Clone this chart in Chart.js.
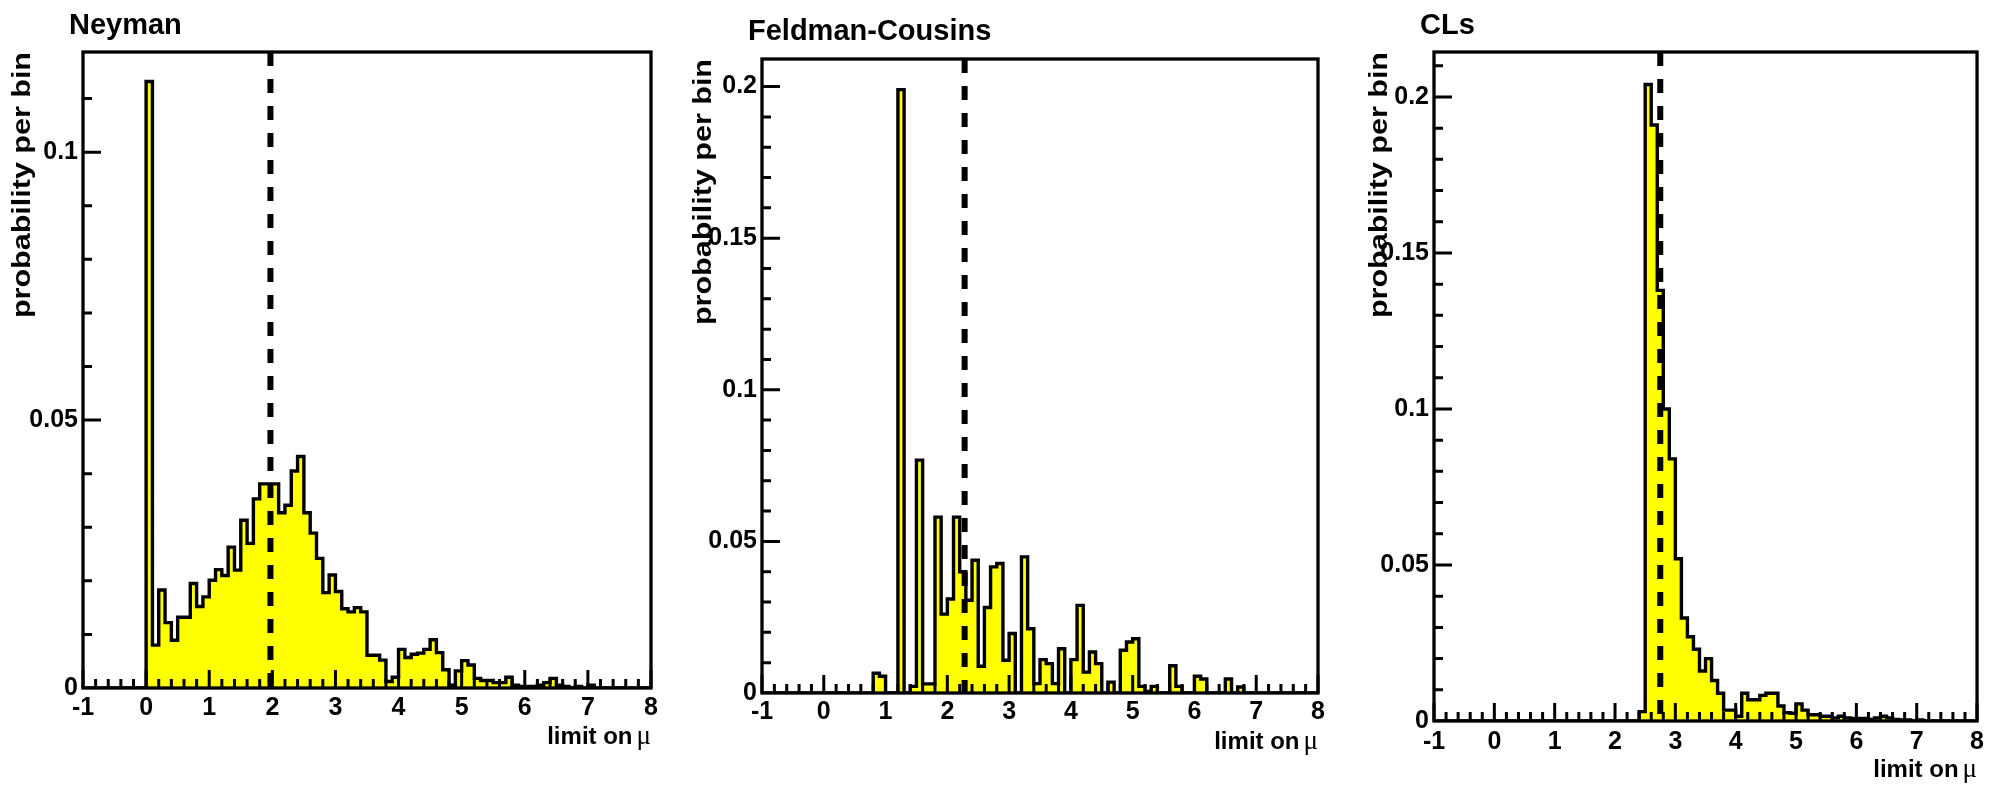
<!DOCTYPE html>
<html>
<head>
<meta charset="utf-8">
<title>Upper limit distributions</title>
<script src="https://cdn.jsdelivr.net/npm/chart.js@4.4.1/dist/chart.umd.min.js"></script>
<style>
  html, body { margin: 0; padding: 0; background: #fff; }
  body { width: 1990px; height: 792px; position: relative; overflow: hidden; }
  canvas { position: absolute; top: 0; }
</style>
</head>
<body>
<canvas id="neyman" width="665" height="792" style="left:0px"></canvas>
<canvas id="fc" width="665" height="792" style="left:665px"></canvas>
<canvas id="cls" width="660" height="792" style="left:1330px"></canvas>
<script>
// probability per 0.1-wide bin of the upper limit on mu, bins start at mu = 0
const binWidth = 0.1;
const binStart = 0;
const xRange = [-1, 8];

const neymanProb = [
  0.1132, 0.0080, 0.0183, 0.0122, 0.0089, 0.0132, 0.0132, 0.0195, 0.0152, 0.0170,
  0.0201, 0.0221, 0.0210, 0.0263, 0.0220, 0.0313, 0.0270, 0.0353, 0.0381, 0.0381,
  0.0381, 0.0327, 0.0341, 0.0405, 0.0432, 0.0327, 0.0289, 0.0242, 0.0178, 0.0211,
  0.0180, 0.0148, 0.0142, 0.0150, 0.0142, 0.0061, 0.0061, 0.0052, 0.0012, 0.0020,
  0.0072, 0.0057, 0.0063, 0.0065, 0.0072, 0.0090, 0.0066, 0.0034, 0.0005, 0.0032,
  0.0051, 0.0043, 0.0018, 0.0014, 0.0014, 0.0010, 0.0010, 0.0020, 0.0005, 0.0003,
  0.0003, 0.0003, 0.0005, 0.0010, 0.0018, 0.0005, 0.0003, 0, 0.0003, 0,
  0.0005, 0, 0, 0, 0, 0, 0, 0, 0, 0
];

const fcProb = [
  0, 0, 0, 0, 0, 0, 0, 0, 0.0065, 0.0055,
  0, 0, 0.199, 0, 0.0022, 0.0768, 0.003, 0.003, 0.058, 0.026,
  0.031, 0.058, 0.040, 0.0306, 0.0438, 0.0088, 0.0282, 0.0416, 0.0427, 0.0108,
  0.0196, 0, 0.0449, 0.0212, 0.0031, 0.011, 0.0097, 0.0031, 0.0146, 0,
  0.011, 0.0289, 0.0069, 0.0135, 0.0097, 0, 0.0036, 0, 0.0141, 0.0168,
  0.0179, 0.0022, 0.0005, 0.0022, 0, 0, 0.009, 0.0022, 0, 0,
  0.0055, 0.0046, 0, 0, 0, 0.0046, 0, 0.002, 0, 0,
  0, 0, 0, 0, 0, 0, 0, 0, 0, 0
];

const clsProb = [
  0, 0, 0, 0, 0, 0, 0, 0, 0, 0,
  0, 0, 0, 0, 0, 0, 0, 0, 0, 0,
  0, 0, 0, 0, 0.003, 0.204, 0.191, 0.138, 0.100, 0.084,
  0.052, 0.033, 0.027, 0.023, 0.016, 0.020, 0.013, 0.0089, 0.0035, 0.0035,
  0.0015, 0.0089, 0.0068, 0.0068, 0.0082, 0.0089, 0.0089, 0.0048, 0.0027, 0.0025,
  0.0055, 0.0035, 0.002, 0.002, 0.0015, 0.0015, 0.001, 0.0015, 0.001, 0.0008,
  0.0008, 0.0008, 0.0005, 0.001, 0.0015, 0.001, 0.0005, 0.0003, 0.0003, 0,
  0.0003, 0, 0, 0, 0, 0, 0, 0, 0, 0
];

// vertical dashed marker in each panel
const markerAt = [1.97, 2.28, 2.75];
const panelTitles = ['Neyman', 'Feldman-Cousins', 'CLs'];
const yTitle = 'probability per bin';
const xTitle = ['limit on', '\u03bc'];
const yMax = [0.1187, 0.2091, 0.2144];

// frame placement inside each canvas
const frames = [
  { id: 'neyman', yAxisW: 83, padTop: 52, padRight: 14, xAxisH: 104, titleY: 34, yTitleOff: 60, tickPad: 5 },
  { id: 'fc', yAxisW: 97, padTop: 59, padRight: 12, xAxisH: 99, titleY: 40, yTitleOff: 58, tickPad: 4 },
  { id: 'cls', yAxisW: 104, padTop: 52, padRight: 12, xAxisH: 71, titleY: 34, yTitleOff: 54, tickPad: 6 }
];

const SANS = '"Liberation Sans", Arial, Helvetica, sans-serif';

function stepPoints(probs) {
  const pts = [{ x: xRange[0], y: 0 }];
  probs.forEach(function(p, i) {
    pts.push({ x: binStart + i * binWidth, y: p });
  });
  pts.push({ x: binStart + probs.length * binWidth, y: 0 });
  return pts;
}

// ROOT-style frame: inward ticks, box, dashed marker and titles
const rootFrame = {
  id: 'rootFrame',
  afterDatasetsDraw(chart, args, opts) {
    const ctx = chart.ctx;
    const a = chart.chartArea;
    const x = chart.scales.x;
    const y = chart.scales.y;
    ctx.save();
    ctx.strokeStyle = '#000';

    const mx = x.getPixelForValue(opts.marker);
    ctx.lineWidth = 6;
    ctx.setLineDash([14, 13]);
    ctx.beginPath();
    ctx.moveTo(mx, a.top);
    ctx.lineTo(mx, a.bottom);
    ctx.stroke();
    ctx.setLineDash([]);

    ctx.lineWidth = 3;
    ctx.beginPath();
    for (let k = xRange[0] * 5; k <= xRange[1] * 5; k++) {
      const px = x.getPixelForValue(k * 0.2);
      const len = k % 5 === 0 ? 18 : 9;
      ctx.moveTo(px, a.bottom);
      ctx.lineTo(px, a.bottom - len);
    }
    for (let k = 1; k * 0.01 <= y.max; k++) {
      const py = y.getPixelForValue(k * 0.01);
      const len = k % 5 === 0 ? 18 : 9;
      ctx.moveTo(a.left, py);
      ctx.lineTo(a.left + len, py);
    }
    ctx.stroke();
    ctx.lineWidth = 3.3;
    ctx.strokeRect(a.left, a.top, a.right - a.left, a.bottom - a.top);
    ctx.restore();
  },
  afterDraw(chart, args, opts) {
    const ctx = chart.ctx;
    const a = chart.chartArea;
    ctx.save();
    ctx.fillStyle = '#000';

    ctx.font = 'bold 29px ' + SANS;
    ctx.textAlign = 'left';
    ctx.textBaseline = 'alphabetic';
    ctx.fillText(opts.title, a.left - 14, opts.titleY);

    // x title, the mu in a serif face
    const base = a.bottom + 56;
    ctx.font = '27px "Liberation Serif", "DejaVu Serif", serif';
    ctx.textAlign = 'right';
    const muW = ctx.measureText(xTitle[1]).width;
    ctx.fillText(xTitle[1], a.right, base);
    ctx.font = 'bold 24px ' + SANS;
    ctx.fillText(xTitle[0], a.right - muW - 4, base);

    // y title runs upwards and ends at the top of the frame, drawn long and narrow
    ctx.translate(a.left - opts.yTitleOff, a.top);
    ctx.rotate(-Math.PI / 2);
    ctx.scale(1.22, 1);
    ctx.font = 'bold 25px ' + SANS;
    ctx.textAlign = 'right';
    ctx.textBaseline = 'middle';
    ctx.fillText(yTitle, 0, 0);
    ctx.restore();
  }
};

function makePanel(idx, probs) {
  const f = frames[idx];
  const ctx = document.getElementById(f.id).getContext('2d');
  return new Chart(ctx, {
    type: 'line',
    data: {
      datasets: [{
        data: stepPoints(probs),
        stepped: 'before',
        fill: 'origin',
        backgroundColor: '#ffff00',
        borderColor: '#000000',
        borderWidth: 3.4,
        borderJoinStyle: 'miter',
        pointRadius: 0
      }]
    },
    options: {
      responsive: false,
      animation: false,
      events: [],
      layout: { padding: { top: f.padTop, right: f.padRight, left: 0, bottom: 0 } },
      plugins: {
        legend: { display: false },
        tooltip: { enabled: false },
        rootFrame: { marker: markerAt[idx], title: panelTitles[idx], titleY: f.titleY, yTitleOff: f.yTitleOff }
      },
      scales: {
        x: {
          type: 'linear',
          min: xRange[0],
          max: xRange[1],
          afterFit: function(s) { s.height = f.xAxisH; },
          grid: { display: false, drawTicks: false },
          border: { display: false },
          ticks: {
            stepSize: 1,
            autoSkip: false,
            maxRotation: 0,
            padding: f.tickPad,
            color: '#000',
            font: { family: SANS, size: 25, weight: 'bold' },
            callback: function(v) { return String(v); }
          }
        },
        y: {
          type: 'linear',
          min: 0,
          max: yMax[idx],
          afterFit: function(s) { s.width = f.yAxisW; },
          grid: { display: false, drawTicks: false },
          border: { display: false },
          ticks: {
            stepSize: 0.05,
            includeBounds: false,
            padding: 5,
            color: '#000',
            font: { family: SANS, size: 25, weight: 'bold' },
            callback: function(v) { return String(Math.round(v * 100) / 100); }
          }
        }
      }
    },
    plugins: [rootFrame]
  });
}

makePanel(0, neymanProb);
makePanel(1, fcProb);
makePanel(2, clsProb);
</script>
</body>
</html>
